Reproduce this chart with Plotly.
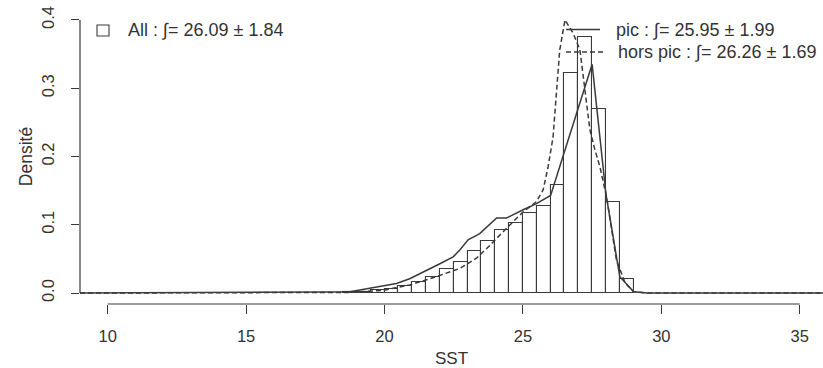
import plotly.graph_objects as go

# ---- data ----
hist_centers = [18.75, 19.25, 19.75, 20.25, 20.75, 21.25, 21.75, 22.25, 22.75, 23.25, 23.75,
                24.25, 24.75, 25.25, 25.75, 26.25, 26.75, 27.25, 27.75, 28.25, 28.75]
hist_density = [0.001, 0.002, 0.004, 0.006, 0.010, 0.016, 0.024, 0.035, 0.045, 0.062, 0.076,
                0.092, 0.102, 0.118, 0.127, 0.159, 0.323, 0.375, 0.269, 0.133, 0.020]
bin_width = 0.5

pic_x = [9, 15, 16, 17, 18, 18.75, 19.47, 20.43, 20.91, 21.52, 22.0, 22.48, 22.72, 23.02, 23.44,
         24.05, 24.41, 25.01, 25.49, 26.0, 27.5, 28.0, 28.5, 29.0, 29.5, 36]
pic_y = [0, 0.0003, 0.0006, 0.001, 0.0015, 0.002, 0.007, 0.014, 0.021, 0.034, 0.043, 0.053, 0.063,
         0.078, 0.087, 0.110, 0.110, 0.122, 0.131, 0.143, 0.335, 0.145, 0.024, 0.002, 0, 0]

hors_x = [9, 15, 17, 18, 18.75, 19.95, 20.91, 21.64, 22.24, 22.72, 23.32, 23.81, 24.41, 25.01, 25.49,
          25.73, 25.91, 26.09, 26.21, 26.33, 26.52, 26.64, 26.82, 27.06, 27.18, 27.3, 27.42, 27.6,
          27.78, 28.02, 28.38, 28.69, 29.0, 29.5, 36]
hors_y = [0, 0.0002, 0.0005, 0.0008, 0.001, 0.004, 0.012, 0.021, 0.029, 0.036, 0.051, 0.070, 0.095,
          0.119, 0.134, 0.151, 0.185, 0.229, 0.293, 0.356, 0.400, 0.392, 0.380, 0.356, 0.317, 0.278,
          0.239, 0.210, 0.185, 0.141, 0.048, 0.015, 0.002, 0, 0]

x_ticks = [10, 15, 20, 25, 30, 35]
y_ticks = [0.0, 0.1, 0.2, 0.3, 0.4]
y_ticktext = ["0.0", "0.1", "0.2", "0.3", "0.4"]

label_all = "All : ∫= 26.09 ± 1.84"
label_pic = "pic : ∫= 25.95 ± 1.99"
label_hors = "hors pic : ∫= 26.26 ± 1.69"

# ---- figure ----
W, H = 823, 368
ML, MR, MT, MB = 80, 0, 9, 64
PW, PH = W - ML - MR, H - MT - MB
INK = "#3a3a3a"
TXT = "#333333"
FONT = "Liberation Sans, Arial, sans-serif"
FS = 16.5
FL = 18


def px(xp):
    return (xp - ML) / PW


def py(yp):
    return 1 - (yp - MT) / PH


fig = go.Figure()
fig.add_trace(go.Bar(x=hist_centers, y=hist_density, width=bin_width,
                     marker=dict(color="white", line=dict(color=INK, width=1.1)),
                     showlegend=False, hoverinfo="x+y"))
fig.add_trace(go.Scatter(x=pic_x, y=pic_y, mode="lines",
                         line=dict(color=INK, width=1.5), showlegend=False))
fig.add_trace(go.Scatter(x=hors_x, y=hors_y, mode="lines",
                         line=dict(color=INK, width=1.5, dash="5px,3px"), showlegend=False))

shapes = [
    dict(type="line", xref="x", yref="paper", x0=x_ticks[0], x1=x_ticks[-1], y0=0, y1=0,
         line=dict(color=INK, width=1.2)),
    dict(type="line", xref="paper", yref="y", x0=0, x1=0, y0=y_ticks[0], y1=y_ticks[-1],
         line=dict(color=INK, width=1.2)),
    dict(type="rect", xref="paper", yref="paper", x0=px(97), x1=px(109), y0=py(36), y1=py(25),
         line=dict(color=INK, width=1.1), fillcolor="white"),
    dict(type="line", xref="paper", yref="paper", x0=px(566), x1=px(600), y0=py(29.5), y1=py(29.5),
         line=dict(color=INK, width=1.5)),
    dict(type="line", xref="paper", yref="paper", x0=px(566), x1=px(603), y0=py(52), y1=py(52),
         line=dict(color=INK, width=1.5, dash="5px,3px")),
]

annotations = [
    dict(text=label_all, xref="paper", yref="paper", x=px(126), y=py(30), xanchor="left",
         yanchor="middle", showarrow=False, font=dict(size=FL, color=TXT, family=FONT)),
    dict(text=label_pic, xref="paper", yref="paper", x=px(614), y=py(29.5), xanchor="left",
         yanchor="middle", showarrow=False, font=dict(size=FL, color=TXT, family=FONT)),
    dict(text=label_hors, xref="paper", yref="paper", x=px(716.5), y=py(52), xanchor="center",
         yanchor="middle", showarrow=False, font=dict(size=FL, color=TXT, family=FONT)),
]

fig.update_layout(
    width=W, height=H,
    margin=dict(l=ML, r=MR, t=MT, b=MB, pad=0, autoexpand=False),
    paper_bgcolor="white", plot_bgcolor="white",
    bargap=0,
    shapes=shapes, annotations=annotations,
    font=dict(family=FONT, color=TXT, size=FS),
    xaxis=dict(range=[9, 35.84], showgrid=False, zeroline=False, showline=False, automargin=False,
               tickmode="array", tickvals=x_ticks, ticks="outside", ticklen=9, tickwidth=1.2,
               tickcolor=INK, tickfont=dict(size=FS, color=TXT), ticklabelstandoff=8,
               ticklabeloverflow="allow",
               title=dict(text="SST", font=dict(size=17, color=TXT), standoff=8)),
    yaxis=dict(range=[-0.016, 0.416], showgrid=False, zeroline=False, showline=False, automargin=False,
               tickmode="array", tickvals=y_ticks, ticktext=y_ticktext, ticks="outside",
               ticklen=8, tickwidth=1.2, tickcolor=INK, tickangle=-90,
               tickfont=dict(size=FS, color=TXT), ticklabelstandoff=10,
               ticklabeloverflow="allow",
               title=dict(text="Densité", font=dict(size=17.5, color=TXT), standoff=2)),
)

fig.write_html("out.html", config={"displayModeBar": False},
               post_script="document.body.style.margin='0px';document.body.style.overflow='hidden';")
